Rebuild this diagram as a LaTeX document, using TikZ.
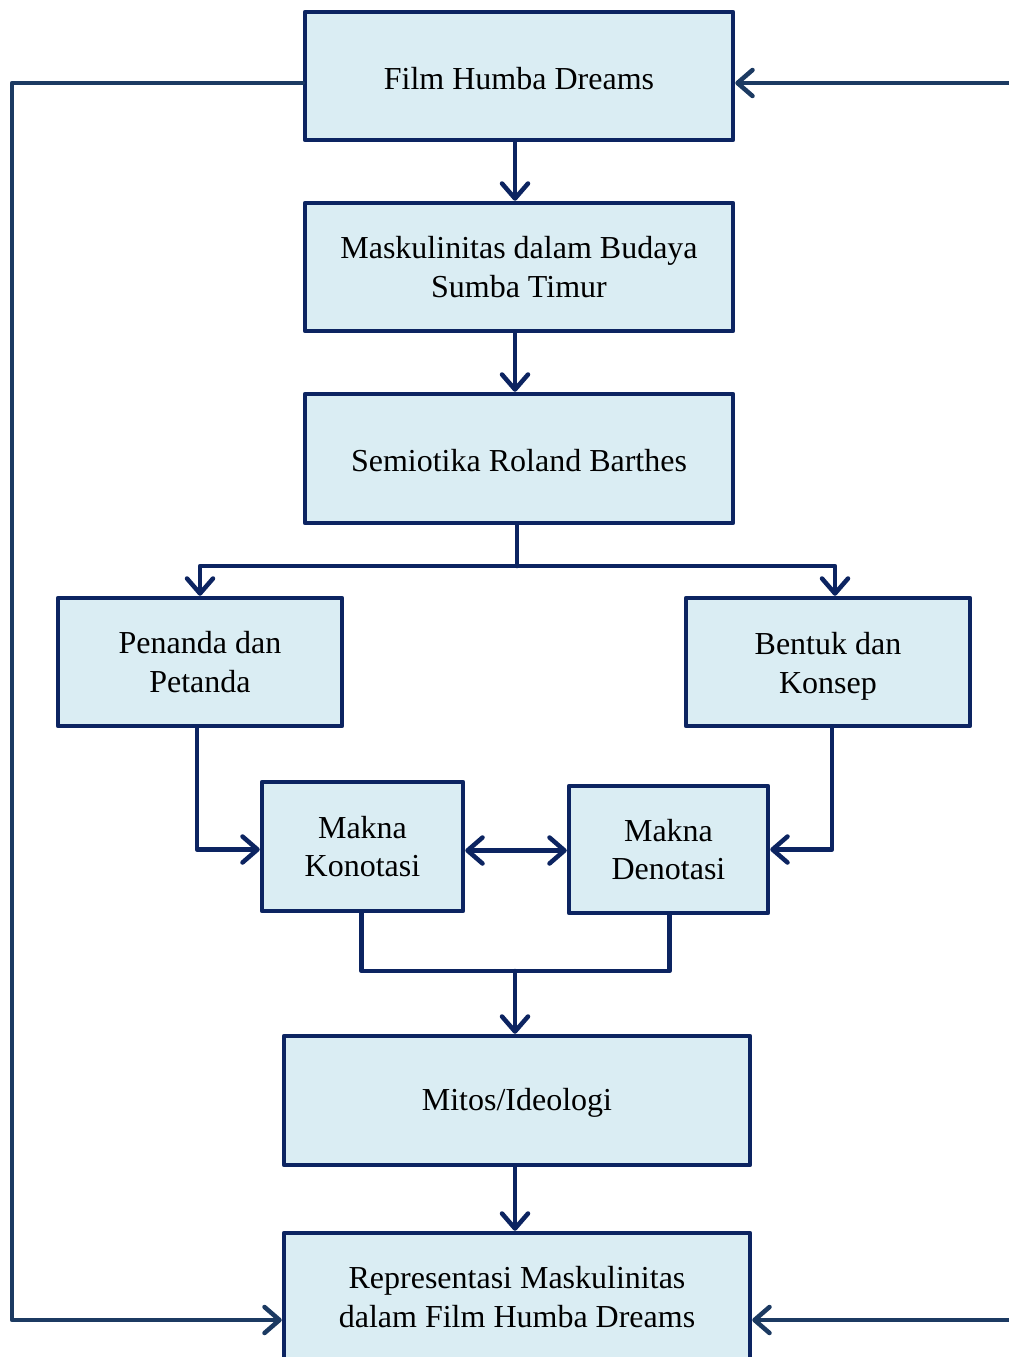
\documentclass[tikz,border=0pt]{standalone}
\usepackage{fontspec}
\setmainfont{Liberation Serif}
\usetikzlibrary{arrows.meta}
\definecolor{boxfill}{HTML}{DAEDF3}
\definecolor{boxline}{HTML}{0C2461}
\definecolor{fbline}{HTML}{1C3A62}
\begin{document}
\begin{tikzpicture}[x=1pt,y=-1pt,
  box/.style={draw=boxline, fill=boxfill, line width=4.5pt, inner sep=0pt, align=center,
    font=\fontsize{32}{38.5}\selectfont, line join=round},
  conn/.style={draw=boxline, line width=4.5pt, line cap=round, line join=round},
  arr/.style={conn, -{Straight Barb[length=15pt,width=26pt,line width=4.5pt,round]}},
  darr/.style={conn, {Straight Barb[length=15pt,width=26pt,line width=4.5pt,round]}-{Straight Barb[length=15pt,width=26pt,line width=4.5pt,round]}},
  fb/.style={draw=fbline, line width=4.5pt, line cap=round, line join=round, -{Straight Barb[length=15pt,width=26pt,line width=4.5pt,round]}}
]
\useasboundingbox[fill=white] (0,0) rectangle (1009,1357);

\node[box, minimum width=428pt, minimum height=128pt] (film) at (519,76) {\rule{0pt}{27pt}Film Humba Dreams};
\node[box, minimum width=428pt, minimum height=128pt] (mask) at (519,267) {Maskulinitas dalam Budaya\\Sumba Timur};
\node[box, minimum width=428pt, minimum height=129pt] (sem) at (519,458.5) {\rule{0pt}{27pt}Semiotika Roland Barthes};
\node[box, minimum width=284pt, minimum height=128pt] (pen) at (200,662) {Penanda dan\\Petanda};
\node[box, minimum width=284pt, minimum height=128pt] (bent) at (828,662) {\rule{0pt}{31pt}Bentuk dan\\Konsep};
\node[box, minimum width=201pt, minimum height=129pt] (kon) at (362.5,846.5) {Makna\\Konotasi};
\node[box, minimum width=199pt, minimum height=127pt] (den) at (668.5,849.5) {Makna\\Denotasi};
\node[box, minimum width=466pt, minimum height=129pt] (mit) at (517,1100.5) {\rule{0pt}{27pt}Mitos/Ideologi};
\node[box, minimum width=466pt, minimum height=128pt] (rep) at (517,1297) {Representasi Maskulinitas\\dalam Film Humba Dreams};

\draw[arr] ([xshift=-4pt]film.south) -- ([xshift=-4pt]mask.north);
\draw[arr] ([xshift=-4pt]mask.south) -- ([xshift=-4pt]sem.north);
\coordinate (split) at (517,566);
\draw[conn] ([xshift=-2pt]sem.south) -- (split);
\draw[arr] (split) -| (pen.north);
\draw[arr] (split) -| ([xshift=7pt]bent.north);
\draw[arr] ([xshift=-3pt]pen.south) |- ([yshift=-3pt]kon.west);
\draw[arr] ([xshift=4pt]bent.south) |- (den.east);
\draw[darr] ([yshift=-4pt]kon.east) -- ([yshift=-4pt]kon.east -| den.west);
\coordinate (merge) at (515,971);
\draw[conn] ([xshift=-1pt]kon.south) |- (merge);
\draw[conn] ([xshift=1pt]den.south) |- (merge);
\draw[arr] (merge) -- (merge |- mit.north);
\draw[arr] ([xshift=-2pt]mit.south) -- ([xshift=-2pt]rep.north);

\coordinate (lc) at (12,83);
\draw[fb] ([yshift=-7pt]film.west) -- (lc) |- ([yshift=-23pt]rep.west);
\coordinate (rt) at (1015,83);
\coordinate (rb) at (1015,1320);
\draw[fb] (rt) -- (rt -| film.east);
\draw[fb] (rb) -- (rb -| rep.east);
\end{tikzpicture}
\end{document}
